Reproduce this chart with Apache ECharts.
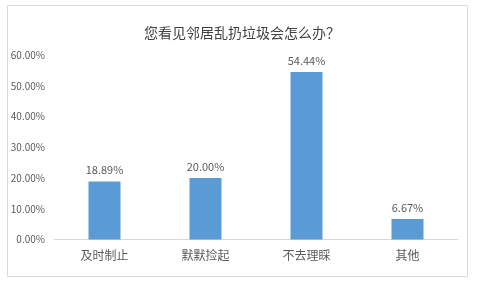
<!DOCTYPE html>
<html>
<head>
<meta charset="utf-8">
<script src="https://cdn.jsdelivr.net/npm/echarts@6/dist/echarts.min.js"></script>
<style>
html,body{margin:0;padding:0;background:#fff;}
#chart{width:494px;height:286px;}
</style>
</head>
<body>
<div id="chart"></div>
<script>
const categories = ['及时制止', '默默捡起', '不去理睬', '其他'];
const values = [18.89, 20.00, 54.44, 6.67];
const titleText = '您看见邻居乱扔垃圾会怎么办？';

const chart = echarts.init(document.getElementById('chart'), null, {renderer: 'canvas'});
const font = '"Microsoft YaHei", "Noto Sans CJK SC", sans-serif';
chart.setOption({
  animation: false,
  backgroundColor: '#fff',
  graphic: [{
    type: 'rect',
    shape: {x: 7.5, y: 5.5, width: 460, height: 271},
    style: {fill: 'none', stroke: '#d9d9d9', lineWidth: 1},
    silent: true
  }],
  title: {
    text: titleText,
    left: 237,
    textAlign: 'center',
    top: 21,
    textStyle: {fontSize: 14, fontWeight: 'normal', color: '#404040', fontFamily: font}
  },
  grid: {left: 54, right: 36, top: 55, bottom: 46.5, containLabel: false},
  xAxis: {
    type: 'category',
    data: categories,
    axisLine: {lineStyle: {color: '#d9d9d9'}},
    axisTick: {show: false},
    axisLabel: {color: '#595959', fontSize: 12, margin: 10, fontFamily: font}
  },
  yAxis: {
    type: 'value',
    min: 0, max: 60, interval: 10,
    splitLine: {show: false},
    axisLine: {show: false},
    axisTick: {show: false},
    axisLabel: {color: '#595959', fontSize: 10, margin: 9, fontFamily: font,
      formatter: v => v.toFixed(2) + '%'}
  },
  series: [{
    type: 'bar',
    data: values,
    barWidth: 32,
    itemStyle: {color: '#5B9BD5'},
    label: {show: true, position: 'top', distance: 6, color: '#595959', fontSize: 11, fontFamily: font,
      formatter: p => p.value.toFixed(2) + '%'}
  }]
});
</script>
</body>
</html>
